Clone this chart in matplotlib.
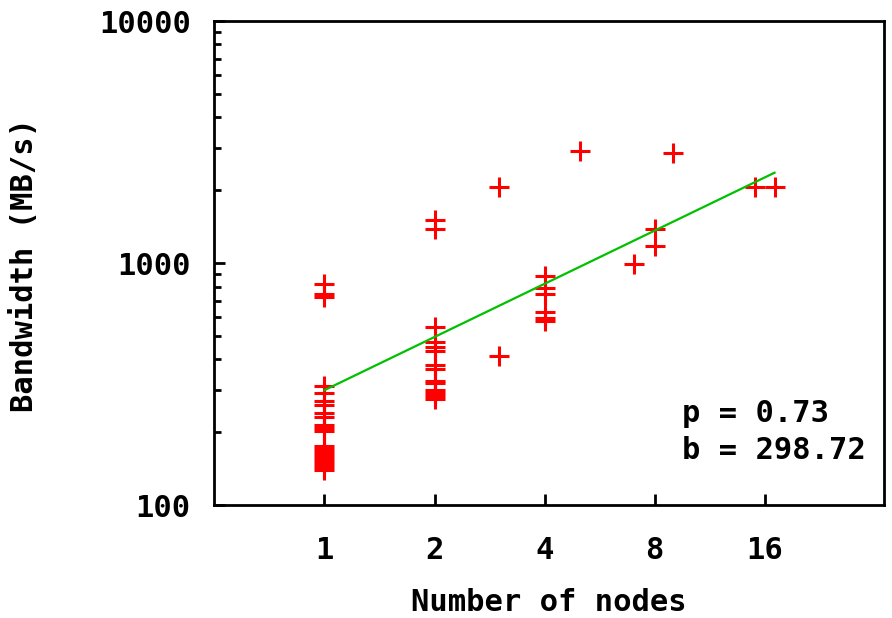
import numpy as np
import matplotlib
matplotlib.use("Agg")
import matplotlib.pyplot as plt
from matplotlib.ticker import FixedLocator, NullFormatter, LogLocator

# measured bandwidth per run (MB/s), grouped by node count
bw_1 = [818, 747, 728, 310, 292, 269, 260, 240, 232, 214, 209, 203,
        175, 171, 166, 161, 157, 152, 148, 144, 140]
bw_2 = [1511, 1388, 547, 474, 450, 435, 379, 367, 327, 319, 300, 292, 283, 276]
bw_4 = [889, 792, 749, 631, 594, 578]
other_nodes = [3, 3, 5, 7, 8, 8, 9, 15, 17]
other_bw = [2067, 413, 2918, 992, 1388, 1172, 2849, 2067, 2067]

nodes = [1] * len(bw_1) + [2] * len(bw_2) + [4] * len(bw_4) + other_nodes
bandwidth = bw_1 + bw_2 + bw_4 + other_bw

# power-law fit  bw = b * n^p
p = 0.73
b = 298.72

xticks = [1, 2, 4, 8, 16]
yticks = [100, 1000, 10000]

plt.rcParams['font.family'] = ['DejaVu Sans Mono']
plt.rcParams['font.weight'] = 'bold'
plt.rcParams['axes.labelweight'] = 'bold'
plt.rcParams['font.size'] = 22

fig = plt.figure(figsize=(8.92, 6.18), dpi=100)
ax = fig.add_axes([0.2402, 0.1824, 0.7505, 0.7836])

ax.plot(nodes, bandwidth, linestyle='none', marker='+', color='#ff0000',
        markersize=15, markeredgewidth=2.2, zorder=3)

xf = np.array([min(nodes), max(nodes)], dtype=float)
ax.plot(xf, b * xf ** p, color='#00c000', linewidth=1.6, zorder=4)

ax.set_xscale('log', base=2)
ax.set_yscale('log')
ax.set_xlim(0.5, 33.8)
ax.set_ylim(100, 10000)

ax.xaxis.set_major_locator(FixedLocator(xticks))
ax.set_xticklabels([str(t) for t in xticks])
ax.xaxis.set_minor_locator(FixedLocator([]))
ax.yaxis.set_major_locator(FixedLocator(yticks))
ax.set_yticklabels([str(t) for t in yticks])
ax.yaxis.set_minor_locator(LogLocator(base=10, subs=np.arange(2, 10)))
ax.yaxis.set_minor_formatter(NullFormatter())

ax.tick_params(which='both', direction='in', width=2, color='black')
ax.tick_params(axis='x', which='major', length=8, pad=22)
ax.tick_params(axis='y', which='major', length=8, pad=17)
ax.tick_params(axis='y', which='minor', length=5)
for s in ax.spines.values():
    s.set_linewidth(2)

ax.set_xlabel('Number of nodes')
ax.xaxis.set_label_coords(0.5, -0.17)
ax.set_ylabel('Bandwidth (MB/s)')
ax.yaxis.set_label_coords(-0.262, 0.496)

ax.text(0.699, 0.19, 'p = %.2f' % p, transform=ax.transAxes, va='center', ha='left')
ax.text(0.699, 0.114, 'b = %.2f' % b, transform=ax.transAxes, va='center', ha='left',
        clip_on=False, zorder=1)

fig.savefig('out.png', dpi=100)
